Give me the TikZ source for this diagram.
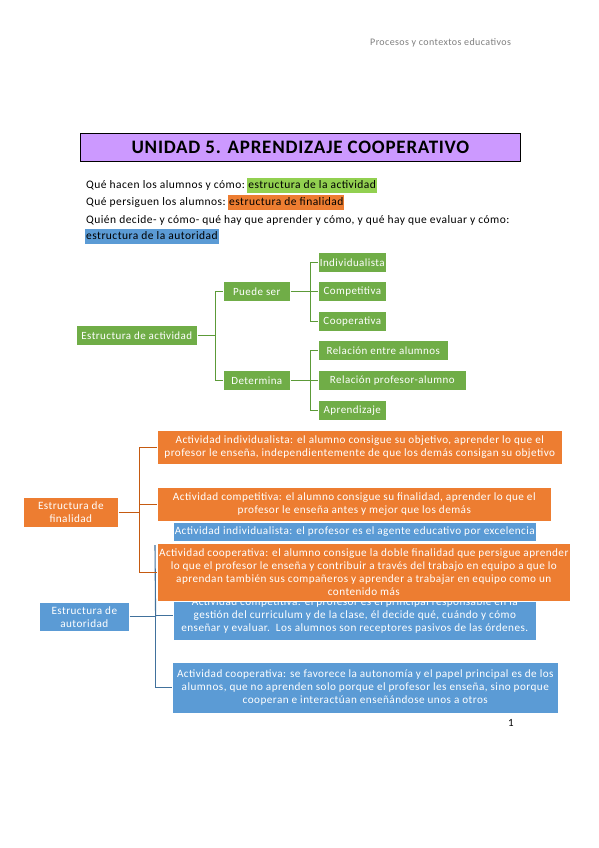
\documentclass[tikz,border=0pt]{standalone}
\usepackage{fontspec}
\setmainfont{Carlito}[LetterSpace=4]
\definecolor{grn}{HTML}{70AD47}
\definecolor{grnline}{HTML}{5C9A38}
\definecolor{org}{HTML}{ED7D31}
\definecolor{orgline}{HTML}{C55A11}
\definecolor{blu}{HTML}{5B9BD5}
\definecolor{bluline}{HTML}{41719C}
\definecolor{pur}{HTML}{CC99FF}
\definecolor{hgreen}{HTML}{92D050}
\definecolor{horange}{HTML}{ED7D31}
\definecolor{hblue}{HTML}{5B9BD5}
\definecolor{hdrgray}{HTML}{7F7F7F}
\begin{document}
\begin{tikzpicture}[x=1pt,y=-1pt,
  sa/.style={draw=white, line width=0.6pt, text=white, font=\fontsize{11.2}{13}\selectfont,
    inner sep=1pt, align=center, anchor=north west},
  sg/.style={sa, fill=grn, font=\fontsize{11}{13}\selectfont, minimum height=20pt},
  gline/.style={draw=grnline, line width=1.1pt},
  oline/.style={draw=orgline, line width=1.1pt},
  bline/.style={draw=bluline, line width=1.1pt},
  txt/.style={font=\fontsize{11.5}{13}\selectfont, inner sep=0pt, anchor=base west},
  hl/.style={font=\fontsize{11.5}{13}\selectfont, inner xsep=1pt, inner ysep=1.5pt,
    text height=9pt, text depth=3pt, anchor=base west}
]
\useasboundingbox (0,0) rectangle (599,848);
\fill[white] (0,0) rectangle (599,848);

% header
\node[font=\fontsize{10}{12}\selectfont, text=hdrgray, inner sep=0pt, anchor=west] (hdr) at (370,43) {Procesos y contextos educativos};

% title
\node[draw=black, line width=0.8pt, fill=pur, minimum width=440pt, minimum height=28pt,
  inner sep=0pt, anchor=north west, font=\fontsize{19}{21}\selectfont\bfseries] (title) at (80,133) {UNIDAD 5. APRENDIZAJE COOPERATIVO};

% intro lines
\node[txt] (l1) at (86,188) {Qué hacen los alumnos y cómo:};
\node[hl, fill=hgreen] (h1) at ([xshift=2pt]l1.base east) {estructura de la actividad};
\node[txt] (l2) at (86,205) {Qué persiguen los alumnos:};
\node[hl, fill=horange] (h2) at ([xshift=2pt]l2.base east) {estructura de finalidad};
\node[txt] (l3) at (86,223) {Quién decide- y cómo- qué hay que aprender y cómo, y qué hay que evaluar y cómo:};
\node[hl, fill=hblue] (h3) at (85,239) {estructura de la autoridad};

% green tree
\node[sg, minimum width=121pt] (ea) at (76,325) {Estructura de actividad};
\node[sg, minimum width=67pt] (ps) at (223,281) {Puede ser};
\node[sg, minimum width=67pt] (det) at (223,370) {Determina};
\node[sg, minimum width=68pt] (ind) at (318,252) {Individualista};
\node[sg, minimum width=68pt] (com) at (318,281) {Competitiva};
\node[sg, minimum width=68pt] (coo) at (318,311) {Cooperativa};
\node[sg, minimum width=130pt] (rea) at (318,340) {Relación entre alumnos};
\node[sg, minimum width=148pt] (rpa) at (318,370) {Relación profesor-alumno};
\node[sg, minimum width=68pt] (apr) at (318,400) {Aprendizaje};
\draw[gline] (ea.east) -- ++(18,0) coordinate (gj1);
\draw[gline] (gj1) |- (ps.west);
\draw[gline] (gj1) |- (det.west);
\draw[gline] (ps.east) -- ++(20,0) coordinate (gj2);
\draw[gline] (gj2) |- (ind.west);
\draw[gline] (gj2) |- (com.west);
\draw[gline] (gj2) |- (coo.west);
\draw[gline] (det.east) -- ++(20,0) coordinate (gj3);
\draw[gline] (gj3) |- (rea.west);
\draw[gline] (gj3) |- (rpa.west);
\draw[gline] (gj3) |- (apr.west);

% orange tree
\node[sa, fill=org, minimum width=95pt, minimum height=30pt] (fin) at (23,497) {Estructura de\\finalidad};
\node[sa, fill=org, minimum width=405pt, minimum height=34pt] (o1) at (157,430) {Actividad individualista: el alumno consigue su objetivo, aprender lo que el\\profesor le enseña, independientemente de que los demás consigan su objetivo};
\node[sa, fill=org, minimum width=394pt, minimum height=34pt] (o2) at (157,487) {Actividad competitiva: el alumno consigue su finalidad, aprender lo que el\\profesor le enseña antes y mejor que los demás};
\draw[oline] (fin.east) -- ++(21,0) coordinate (oj);
\draw[oline] (oj) |- (o1.west);
\draw[oline] (oj) |- (o2.west);

% blue tree
\node[sa, fill=blu, minimum width=90pt, minimum height=29pt] (aut) at (39,602) {Estructura de\\autoridad};
\node[sa, fill=blu, minimum width=363pt, minimum height=19pt] (b1) at (173,522) {Actividad individualista: el profesor es el agente educativo por excelencia};
\node[sa, fill=blu, minimum width=363pt, minimum height=49pt] (b2) at (173,591) {Actividad competitiva: el profesor es el principal responsable en la\\gestión del curriculum y de la clase, él decide qué, cuándo y cómo\\enseñar y evaluar.\ \ Los alumnos son receptores pasivos de las órdenes.};
\node[sa, fill=blu, minimum width=386pt, minimum height=51pt] (b3) at (172,662) {Actividad cooperativa: se favorece la autonomía y el papel principal es de los\\alumnos, que no aprenden solo porque el profesor les enseña, sino porque\\cooperan e interactúan enseñándose unos a otros};
\draw[bline] (aut.east) -- ++(26,0) coordinate (bj);
\coordinate (btop) at (155,545);
\draw[bline] (btop) -- (bj);
\draw[bline] (bj) |- (b2.west);
\draw[bline] (bj) |- (b3.west);

% orange box on top
\node[sa, fill=org, minimum width=413pt, minimum height=58pt] (o3) at (157,543) {Actividad cooperativa: el alumno consigue la doble finalidad que persigue aprender\\lo que el profesor le enseña y contribuir a través del trabajo en equipo a que lo\\aprendan también sus compañeros y aprender a trabajar en equipo como un\\contenido más};
\draw[oline] (oj) |- (o3.west);

% page number
\node[font=\fontsize{11}{13}\selectfont, inner sep=0pt] (pg) at (511,723) {1};
\end{tikzpicture}
\end{document}
